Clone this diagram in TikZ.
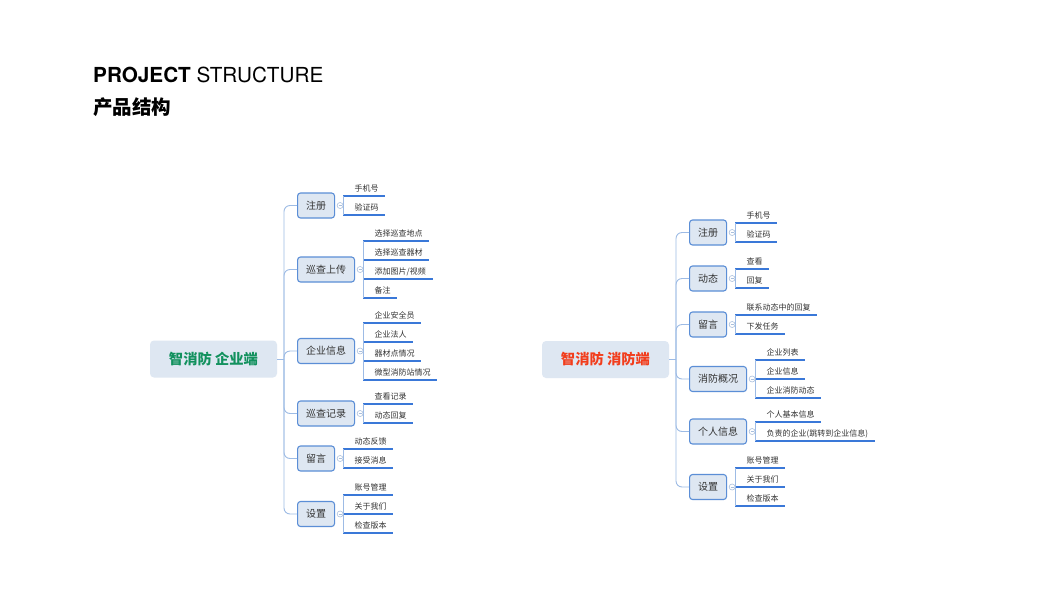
\documentclass[tikz,border=0pt]{standalone}
\usepackage{fontspec}
\setmainfont{TeX Gyre Heros}
\newfontfamily\cjk{Noto Sans CJK SC}
\definecolor{boxfill}{HTML}{DEE7F2}
\definecolor{boxline}{HTML}{5B8ED6}
\definecolor{trunkc}{HTML}{9DBBE5}
\definecolor{uline}{HTML}{3A78D8}
\definecolor{foldc}{HTML}{A9BFDD}
\definecolor{textc}{HTML}{333333}
\definecolor{rootgreen}{HTML}{12915E}
\definecolor{rootred}{HTML}{F23D1C}
\tikzset{
  rootbox/.style={rounded corners=4pt, fill=boxfill, minimum width=127pt, minimum height=37pt, inner sep=0pt, font=\cjk\bfseries\fontsize{14.3}{16}\selectfont},
  branchbox/.style={draw=boxline, line width=1.1pt, fill=boxfill, rounded corners=3pt, minimum height=25pt, inner sep=0pt, font=\cjk\fontsize{10}{12}\selectfont, text=textc},
  leaftext/.style={inner sep=0pt, font=\cjk\fontsize{8}{10}\selectfont, text=textc},
  leafline/.style={draw=uline, line width=1.6pt},
  trunkline/.style={draw=trunkc, line width=0.9pt, rounded corners=6pt},
  foldmark/.style={circle, draw=foldc, line width=0.6pt, minimum size=6pt, inner sep=0pt, fill=white}
}
% #1 name, #2 x, #3 cy, #4 width, #5 text
\newcommand{\mkbranch}[5]{%
  \node[branchbox, minimum width=#4pt, anchor=west] (#1) at (#2,#3) {#5};
  \node[foldmark] (#1f) at ([xshift=5pt]#1.east) {};
  \draw[foldc, line width=0.5pt] ([xshift=-1.6pt]#1f.center) -- ([xshift=1.6pt]#1f.center);
  \coordinate (#1v) at ([xshift=9pt]#1.east);
  \draw[trunkline] (#1f.east) -- (#1v);
}
% #1 name, #2 vline x, #3 underline y, #4 text
\newcommand{\mkleaf}[4]{%
  \coordinate (#1s) at (#2,#3);
  \node[leaftext, anchor=base west] (#1) at (#2+11.5,#3-5) {#4};
  \coordinate (#1e) at ([xshift=6.5pt]#1.east);
  \draw[leafline] (#1s) -- (#1s -| #1e);
}
\begin{document}
\begin{tikzpicture}[x=1pt,y=-1pt]
\useasboundingbox[fill=white] (0,0) rectangle (1054,600);

\node[anchor=base west, inner sep=0pt, font=\fontsize{20.7}{24}\selectfont] (title) at (93,82) {\textbf{PROJECT} STRUCTURE};
\node[anchor=base west, inner sep=0pt, font=\cjk\bfseries\fontsize{19.5}{22}\selectfont] (subtitle) at (93,114) {产品结构};

% ---------------- left tree ----------------
\node[rootbox, text=rootgreen] (Lroot) at (213.5,359) {智消防 企业端};
\coordinate (Lj) at (284,359);

\mkbranch{LA}{297}{205.5}{37}{注册}
\mkleaf{LA1}{343}{196}{手机号}
\mkleaf{LA2}{343}{215}{验证码}

\mkbranch{LB}{297}{269.5}{57}{巡查上传}
\mkleaf{LB1}{363}{241}{选择巡查地点}
\mkleaf{LB2}{363}{260}{选择巡查器材}
\mkleaf{LB3}{363}{279}{添加图片/视频}
\mkleaf{LB4}{363}{298}{备注}

\mkbranch{LC}{297}{351}{57}{企业信息}
\mkleaf{LC1}{363}{323}{企业安全员}
\mkleaf{LC2}{363}{342}{企业法人}
\mkleaf{LC3}{363}{361}{器材点情况}
\mkleaf{LC4}{363}{380}{微型消防站情况}

\mkbranch{LD}{297}{413.5}{57}{巡查记录}
\mkleaf{LD1}{363}{404}{查看记录}
\mkleaf{LD2}{363}{423}{动态回复}

\mkbranch{LE}{297}{458.5}{37}{留言}
\mkleaf{LE1}{343}{449}{动态反馈}
\mkleaf{LE2}{343}{468}{接受消息}

\mkbranch{LF}{297}{514}{37}{设置}
\mkleaf{LF1}{343}{495}{账号管理}
\mkleaf{LF2}{343}{514}{关于我们}
\mkleaf{LF3}{343}{533}{检查版本}

\draw[trunkline] (Lroot.east) -- (Lj);
\foreach \b in {LA,LB,LC,LD,LE,LF} \draw[trunkline] (Lj) |- (\b.west);
\draw[trunkline] (LA1s) -- (LA2s);
\draw[trunkline] (LB1s) -- (LB4s);
\draw[trunkline] (LC1s) -- (LC4s);
\draw[trunkline] (LD1s) -- (LD2s);
\draw[trunkline] (LE1s) -- (LE2s);
\draw[trunkline] (LF1s) -- (LF3s);

% ---------------- right tree ----------------
\node[rootbox, text=rootred] (Rroot) at (605.5,359.5) {智消防 消防端};
\coordinate (Rj) at (676,359.5);

\mkbranch{RA}{689}{232.5}{37}{注册}
\mkleaf{RA1}{735}{223}{手机号}
\mkleaf{RA2}{735}{242}{验证码}

\mkbranch{RB}{689}{278.5}{37}{动态}
\mkleaf{RB1}{735}{269}{查看}
\mkleaf{RB2}{735}{288}{回复}

\mkbranch{RC}{689}{324.5}{37}{留言}
\mkleaf{RC1}{735}{315}{联系动态中的回复}
\mkleaf{RC2}{735}{334}{下发任务}

\mkbranch{RD}{689}{379}{57}{消防概况}
\mkleaf{RD1}{755}{360}{企业列表}
\mkleaf{RD2}{755}{379}{企业信息}
\mkleaf{RD3}{755}{398}{企业消防动态}

\mkbranch{RE}{689}{431.5}{57}{个人信息}
\mkleaf{RE1}{755}{422}{个人基本信息}
\mkleaf{RE2}{755}{441}{负责的企业(跳转到企业信息)}

\mkbranch{RF}{689}{487}{37}{设置}
\mkleaf{RF1}{735}{468}{账号管理}
\mkleaf{RF2}{735}{487}{关于我们}
\mkleaf{RF3}{735}{506}{检查版本}

\draw[trunkline] (Rroot.east) -- (Rj);
\foreach \b in {RA,RB,RC,RD,RE,RF} \draw[trunkline] (Rj) |- (\b.west);
\draw[trunkline] (RA1s) -- (RA2s);
\draw[trunkline] (RB1s) -- (RB2s);
\draw[trunkline] (RC1s) -- (RC2s);
\draw[trunkline] (RD1s) -- (RD3s);
\draw[trunkline] (RE1s) -- (RE2s);
\draw[trunkline] (RF1s) -- (RF3s);
\end{tikzpicture}
\end{document}
